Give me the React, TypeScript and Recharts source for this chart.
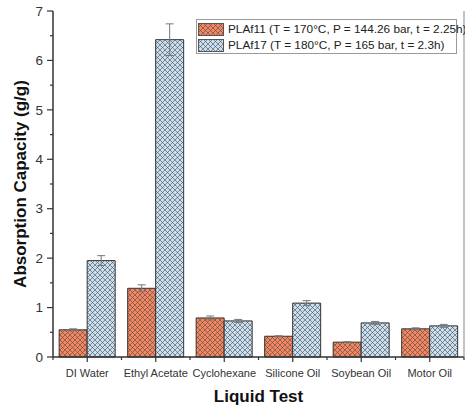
import React from "react"
import {
  Bar,
  BarChart,
  ErrorBar,
  Legend,
  XAxis,
  YAxis,
} from "recharts"

const categories = ["DI Water", "Ethyl Acetate", "Cyclohexane", "Silicone Oil", "Soybean Oil", "Motor Oil"]
const plaf11 = [0.55, 1.39, 0.79, 0.42, 0.3, 0.57]
const plaf11Err = [0.02, 0.07, 0.04, 0.01, 0.01, 0.02]
const plaf17 = [1.95, 6.42, 0.73, 1.09, 0.69, 0.63]
const plaf17Err = [0.1, 0.32, 0.03, 0.05, 0.03, 0.03]
const yTicks = [0, 0.5, 1, 1.5, 2, 2.5, 3, 3.5, 4, 4.5, 5, 5.5, 6, 6.5, 7]
const seriesNames = [
  "PLAf11 (T = 170°C, P = 144.26 bar, t = 2.25h)",
  "PLAf17 (T = 180°C, P = 165 bar, t = 2.3h)",
]

const data = categories.map((name, i) => ({
  name,
  a: plaf11[i],
  aErr: plaf11Err[i],
  b: plaf17[i],
  bErr: plaf17Err[i],
}))

const W = 465
const H = 410
const LEFT = 53
const RIGHT = 1
const BAND = (W - LEFT - RIGHT) / categories.length
const FONT = "'Liberation Sans', Arial, sans-serif"
const ORANGE = "#f6865f"
const BLUE = "#c8dff1"
const AXIS = "#333"

function Hatch({ id, color }: { id: string; color: string }) {
  return (
    <pattern id={id} patternUnits="userSpaceOnUse" width={5} height={5}>
      <rect width={5} height={5} fill={color} />
      <path d="M0,0 L5,5 M5,0 L0,5" stroke="#4a4a4a" strokeWidth={0.6} />
    </pattern>
  )
}

const YTick = (props: any) => {
  const { x, y, payload } = props
  const major = Number.isInteger(payload.value)
  return (
    <g>
      <line x1={x - (major ? 6 : 3)} x2={x} y1={y} y2={y} stroke={AXIS} strokeWidth={1.2} />
      {major && (
        <text x={x - 10} y={y} dy="0.35em" textAnchor="end" fontSize={13.5} fill="#333" fontFamily={FONT}>
          {payload.value}
        </text>
      )}
    </g>
  )
}

const XTick = (props: any) => {
  const { x, y, payload, index } = props
  const last = index === categories.length - 1
  return (
    <g>
      <line x1={x} x2={x} y1={y} y2={y + 5} stroke={AXIS} strokeWidth={1.2} />
      <line x1={x - BAND / 2} x2={x - BAND / 2} y1={y} y2={y + 3} stroke={AXIS} strokeWidth={1.2} />
      {last && <line x1={x + BAND / 2} x2={x + BAND / 2} y1={y} y2={y + 3} stroke={AXIS} strokeWidth={1.2} />}
      <text x={x} y={y + 20} textAnchor="middle" fontSize={11} fill="#333" fontFamily={FONT}>
        {payload.value}
      </text>
    </g>
  )
}

const renderLegend = () => (
  <div
    style={{
      border: "1px solid #9a9a9a",
      background: "#fff",
      padding: "1px 2px 0 1px",
      fontFamily: FONT,
      fontSize: 11.8,
      color: "#222",
      lineHeight: "16px",
      width: 261,
      boxSizing: "border-box",
    }}
  >
    {seriesNames.map((s, i) => (
      <div key={s} style={{ display: "flex", alignItems: "center", height: 16, whiteSpace: "nowrap" }}>
        <svg width={26} height={13} style={{ marginRight: 4, flexShrink: 0 }}>
          <defs>
            <Hatch id={`lg${i}`} color={i === 0 ? ORANGE : BLUE} />
          </defs>
          <rect x={0.5} y={0.5} width={25} height={12} fill={`url(#lg${i})`} stroke="#555" />
        </svg>
        <span>{s}</span>
      </div>
    ))}
  </div>
)

export default function App() {
  return (
    <div style={{ position: "absolute", left: 0, top: 0, width: W, height: H, background: "#fff" }}>
      <BarChart
        width={W}
        height={H}
        data={data}
        margin={{ top: 11, right: 0, left: 0, bottom: 0 }}
        barCategoryGap="9%"
        barGap={0}
      >
        <defs>
          <Hatch id="hatchA" color={ORANGE} />
          <Hatch id="hatchB" color={BLUE} />
        </defs>
        <XAxis
          dataKey="name"
          height={53}
          axisLine={{ stroke: AXIS, strokeWidth: 1.5 }}
          tickLine={false}
          tickSize={0}
          tickMargin={0}
          tick={<XTick />}
          interval={0}
          label={{
            value: "Liquid Test",
            position: "insideBottom",
            offset: 8,
            style: { fontSize: 17, fontWeight: "bold", fill: "#111", fontFamily: FONT },
          }}
        />
        <XAxis xAxisId="top" dataKey="name" orientation="top" height={0} tick={false} tickLine={false} axisLine={{ stroke: AXIS, strokeWidth: 1.5 }} />
        <YAxis
          yAxisId="left"
          width={LEFT}
          domain={[0, 7]}
          ticks={yTicks}
          interval={0}
          axisLine={{ stroke: AXIS, strokeWidth: 1.5 }}
          tickLine={false}
          tickSize={0}
          tickMargin={0}
          tick={<YTick />}
          label={{
            value: "Absorption Capacity (g/g)",
            angle: -90,
            position: "insideLeft",
            offset: 20,
            style: { textAnchor: "middle", fontSize: 17, fontWeight: "bold", fill: "#111", fontFamily: FONT },
          }}
        />
        <YAxis yAxisId="right" orientation="right" width={RIGHT} domain={[0, 7]} tick={false} tickLine={false} axisLine={{ stroke: "#888", strokeWidth: 1 }} />
        <Legend
          content={renderLegend}
          layout="horizontal"
          verticalAlign="middle"
          align="center"
          wrapperStyle={{ position: "absolute", left: 196, top: 19, width: 261 }}
        />
        <Bar yAxisId="left" dataKey="a" name={seriesNames[0]} fill="url(#hatchA)" stroke="#333" strokeWidth={1} isAnimationActive={false}>
          <ErrorBar dataKey="aErr" width={4} stroke="#777" strokeWidth={1} direction="y" />
        </Bar>
        <Bar yAxisId="left" dataKey="b" name={seriesNames[1]} fill="url(#hatchB)" stroke="#333" strokeWidth={1} isAnimationActive={false}>
          <ErrorBar dataKey="bErr" width={4} stroke="#777" strokeWidth={1} direction="y" />
        </Bar>
      </BarChart>
    </div>
  )
}
